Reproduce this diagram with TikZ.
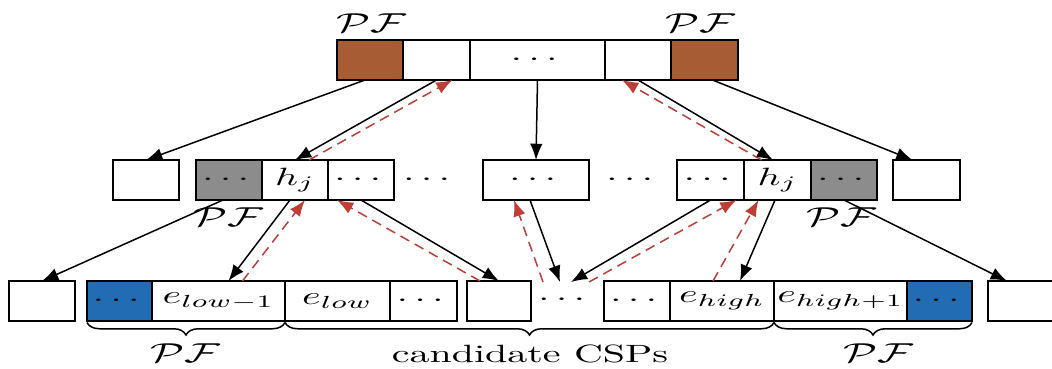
\documentclass[tikz,border=0pt]{standalone}
\usepackage{xcolor}
\usepackage{amsmath}
\usepackage{amssymb}
\usepackage{graphicx}
\usepackage{tikz}
\usetikzlibrary{arrows.meta,positioning,decorations.pathreplacing}

\definecolor{pfbrown}{RGB}{168,92,52}
\definecolor{pfblue}{RGB}{34,108,180}
\definecolor{pfgray}{RGB}{140,140,140}
\definecolor{backred}{RGB}{190,62,54}
\newcommand{\stx}[1]{\scalebox{1.6}[1]{#1}}
\newcommand{\pflabel}{\stx{\fontsize{11}{13}\selectfont$\mathcal{PF}$}}

\begin{document}
\begin{tikzpicture}[x=0.4pt, y=-0.4pt,
  cell/.style={draw, line width=1.1pt, minimum height=16pt, minimum width=26.4pt, inner sep=0pt, outer sep=0pt},
  godown/.style={line width=0.6pt, -{Latex[length=6.5pt,width=5pt]}},
  goup/.style={line width=0.6pt, backred, dash pattern=on 4pt off 2.5pt, -{Latex[length=6.5pt,width=5pt]}},
  brc/.style={decorate, decoration={brace, mirror, amplitude=5pt}, line width=0.6pt}]
  \useasboundingbox (0,0) rectangle (1052,368);

  \node[cell, fill=pfbrown, anchor=west] (t1) at (337,60) {};
  \node[cell, right=0pt of t1, minimum width=26.8pt] (t2) {};
  \node[cell, right=0pt of t2, minimum width=54pt] (t3) {\stx{$\cdots$}};
  \node[cell, right=0pt of t3] (t4) {};
  \node[cell, fill=pfbrown, right=0pt of t4, minimum width=26.8pt] (t5) {};
  \node[anchor=base] (pft1) at (371,32) {\pflabel};
  \node[anchor=base] (pft2) at (700,32) {\pflabel};

  \node[cell, anchor=west] (m1) at (113,180) {};
  \node[cell, fill=pfgray, anchor=west] (m2) at (196,180) {\stx{$\cdots$}};
  \node[cell, right=0pt of m2] (m3) {\stx{$h_j$}};
  \node[cell, right=0pt of m3] (m4) {\stx{$\cdots$}};
  \node (md1) at (430,180) {\stx{$\cdots$}};
  \node[cell, anchor=west, minimum width=42.4pt] (m5) at (483,180) {\stx{$\cdots$}};
  \node (md2) at (633,180) {\stx{$\cdots$}};
  \node[cell, anchor=west, minimum width=26.8pt] (m6) at (677,180) {\stx{$\cdots$}};
  \node[cell, right=0pt of m6, minimum width=26.8pt] (m7) {\stx{$h_j$}};
  \node[cell, fill=pfgray, right=0pt of m7] (m8) {\stx{$\cdots$}};
  \node[cell, anchor=west, minimum width=26.8pt] (m9) at (893,180) {};
  \node[anchor=base] (pfm1) at (228,226) {\pflabel};
  \node[anchor=base] (pfm2) at (841,226) {\pflabel};

  \node[cell, anchor=west] (b1) at (9,301) {};
  \node[cell, fill=pfblue, anchor=west, minimum width=26pt] (b2) at (87,301) {\stx{$\cdots$}};
  \node[cell, right=0pt of b2, minimum width=53.2pt] (b3) {\stx{$e_{low-1}$}};
  \node[cell, right=0pt of b3, minimum width=42pt] (b4) {\stx{$e_{low}$}};
  \node[cell, right=0pt of b4, minimum width=26.8pt] (b5) {\stx{$\cdots$}};
  \node[cell, anchor=west, minimum width=25.6pt] (b6) at (467,301) {};
  \node[inner sep=0pt, minimum height=14pt] (bd) at (565,300) {\stx{$\cdots$}};
  \node[cell, anchor=west] (b7) at (604,301) {\stx{$\cdots$}};
  \node[cell, right=0pt of b7, minimum width=41.6pt] (b8) {\stx{$e_{high}$}};
  \node[cell, right=0pt of b8, minimum width=53.2pt] (b9) {\stx{$e_{high+1}$}};
  \node[cell, fill=pfblue, right=0pt of b9, minimum width=26pt] (b10) {\stx{$\cdots$}};
  \node[cell, anchor=west] (b11) at (988,301) {};

  \draw[godown] ([xshift=-2pt]t1.south) -- (m1.north);
  \draw[godown] (t2.south) -- (m3.north);
  \draw[goup] ([xshift=5.6pt]m3.north) -- ([xshift=6.4pt]t2.south);
  \draw[godown] (t3.south) -- (m5.north);
  \draw[godown] (t4.south) -- ([xshift=-1.8pt]m7.north);
  \draw[goup] ([xshift=-6.4pt]m7.north) -- ([xshift=-6.4pt]t4.south);
  \draw[godown] ([xshift=3.2pt]t5.south) -- ([xshift=-5.6pt]m9.north);

  \draw[godown] ([xshift=-2.4pt]m2.south) -- (b1.north);
  \draw[godown] ([xshift=-2pt]m3.south) -- ([xshift=4pt]b3.north);
  \draw[goup] ([xshift=9.6pt]b3.north) -- ([xshift=4pt]m3.south);
  \draw[godown] (m4.south) -- (b6.north);
  \draw[goup] ([xshift=-7.6pt]b6.north) -- ([xshift=-9.6pt]m4.south);
  \draw[godown] ([xshift=-2.4pt]m5.south) -- ([xshift=-2pt]bd.north);
  \draw[goup] ([xshift=-8.8pt]bd.north) -- ([xshift=-8.8pt]m5.south);
  \draw[godown] (m6.south) -- ([xshift=2.4pt]bd.north);
  \draw[goup] ([xshift=9.6pt]bd.north) -- ([xshift=10.4pt]m6.south);
  \draw[godown] ([xshift=-1pt]m7.south) -- ([xshift=7.2pt]b8.north);
  \draw[goup] ([xshift=-3.6pt]b8.north) -- ([xshift=-7.6pt]m7.south);
  \draw[godown] (m8.south) -- ([xshift=-5.6pt]b11.north);

  \draw[brc] ([yshift=-0.6pt]b2.south west) -- ([yshift=-0.6pt]b3.south east);
  \draw[brc] ([yshift=-0.6pt]b3.south east) -- ([yshift=-0.6pt]b8.south east);
  \draw[brc] ([yshift=-0.6pt]b8.south east) -- ([yshift=-0.6pt]b10.south east);
  \node[anchor=base] (pfb1) at (185,362) {\pflabel};
  \node[anchor=base] (cand) at (530,362) {\stx{candidate CSPs}};
  \node[anchor=base] (pfb2) at (878,362) {\pflabel};
\end{tikzpicture}
\end{document}
